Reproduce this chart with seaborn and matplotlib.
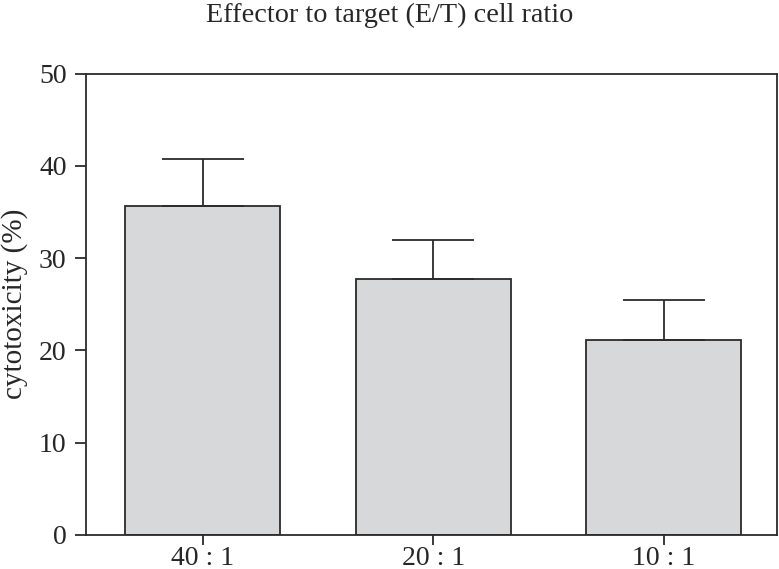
import pandas as pd
import matplotlib
matplotlib.use('Agg')
import matplotlib.pyplot as plt
import seaborn as sns
import numpy as np

ratios = ['40 : 1', '20 : 1', '10 : 1']
cytotoxicity = [35.6, 27.7, 21.1]
sd = [5.1, 4.3, 4.4]
yticks = [0, 10, 20, 30, 40, 50]

sns.set_style('ticks')
plt.rcParams['font.family'] = ['Liberation Serif', 'DejaVu Serif']

df = pd.DataFrame({'ratio': ratios, 'cytotoxicity': cytotoxicity})

fig = plt.figure(figsize=(7.79, 5.69), dpi=100)
ax = fig.add_axes([0.1104, 0.0598, 0.887, 0.811])

sns.barplot(x='ratio', y='cytotoxicity', data=df, color='#d7d8da',
            edgecolor='#2b2b2b', linewidth=1.3, width=0.672,
            errorbar=None, saturation=1, ax=ax)
xs = np.arange(len(ratios))
ax.errorbar(xs, cytotoxicity, yerr=[np.zeros(len(sd)), sd], fmt='none',
            ecolor='#2b2b2b', elinewidth=1.3, capsize=29.5, capthick=1.3,
            zorder=1)

ax.set_xlim(-0.505, 2.49)
ax.set_ylim(0, 50)
ax.set_yticks(yticks)
ax.set_xlabel('')
ax.set_ylabel('cytotoxicity (%)', fontsize=21, labelpad=8)
for s in ax.spines.values():
    s.set_linewidth(1.3)
    s.set_color('#2b2b2b')
ax.tick_params(axis='y', length=8, width=1.3, labelsize=20, pad=6,
               color='#2b2b2b')
ax.tick_params(axis='x', length=7, width=1.3, labelsize=20, pad=1,
               color='#2b2b2b')

fig.text(0.5, 0.995, 'Effector to target (E/T) cell ratio', ha='center',
         va='top', fontsize=20.3)

fig.savefig('out.png', dpi=100)
